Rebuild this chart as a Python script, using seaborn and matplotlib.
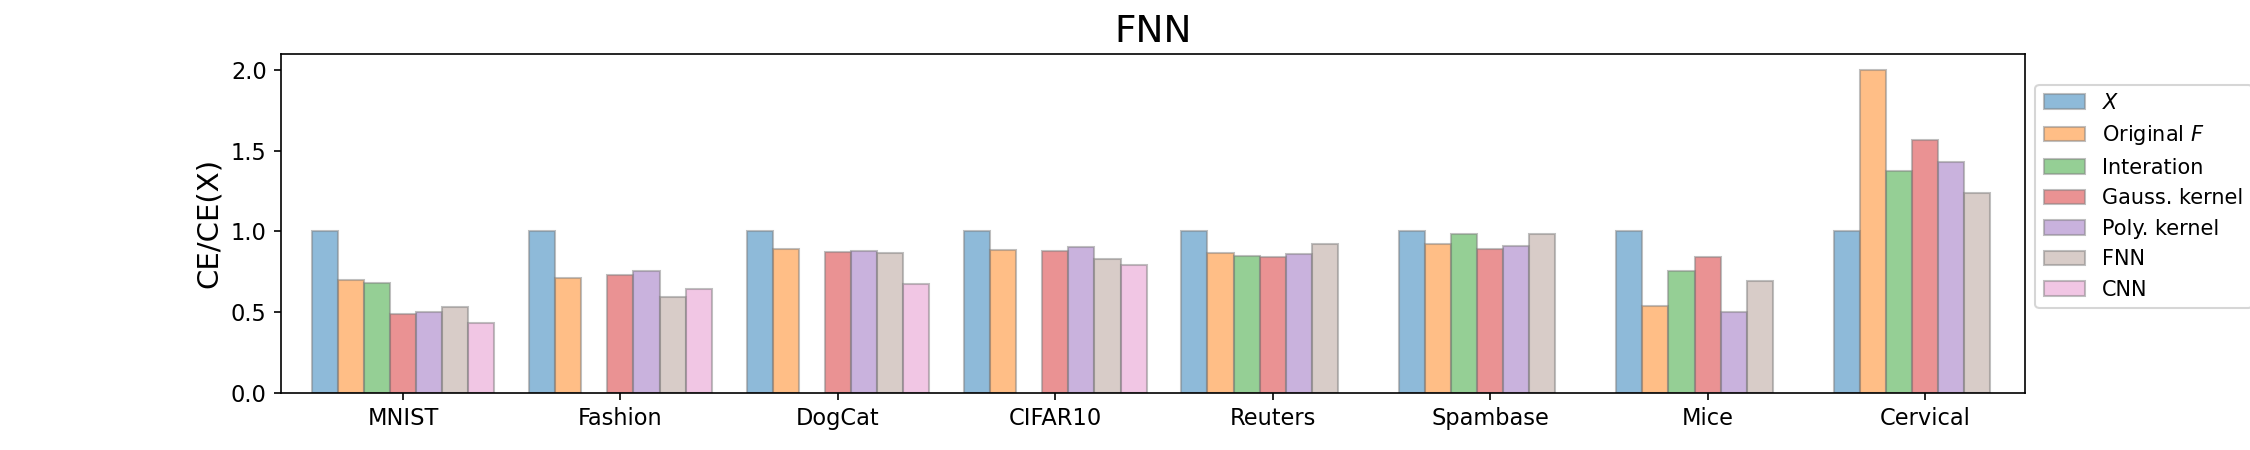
import numpy as np
import pandas as pd
import seaborn as sns
import matplotlib.pyplot as plt

datasets = ["MNIST", "Fashion", "DogCat", "CIFAR10", "Reuters", "Spambase", "Mice", "Cervical"]
methods = ["$X$", "Original $F$", "Interation", "Gauss. kernel", "Poly. kernel", "FNN", "CNN"]
colors = ["#1f77b4", "#ff7f0e", "#2ca02c", "#d62728", "#9467bd", "#b39b93", "#e58fcb"]

nan = np.nan
# CE relative to CE(X), one list per method (NaN = not run)
ce_x = [1.0, 1.0, 1.0, 1.0, 1.0, 1.0, 1.0, 1.0]
ce_orig = [0.70, 0.71, 0.89, 0.885, 0.865, 0.925, 0.54, 2.0]
ce_inter = [0.68, nan, nan, nan, 0.846, 0.987, 0.757, 1.377]
ce_gauss = [0.49, 0.73, 0.873, 0.879, 0.842, 0.894, 0.844, 1.567]
ce_poly = [0.50, 0.757, 0.881, 0.904, 0.863, 0.908, 0.50, 1.43]
ce_fnn = [0.53, 0.592, 0.869, 0.828, 0.923, 0.987, 0.696, 1.24]
ce_cnn = [0.43, 0.642, 0.677, 0.791, nan, nan, nan, nan]

series = [ce_x, ce_orig, ce_inter, ce_gauss, ce_poly, ce_fnn, ce_cnn]
rows = []
for m, vals in zip(methods, series):
    for d, v in zip(datasets, vals):
        rows.append([d, m, v])
df = pd.DataFrame(rows, columns=["dataset", "method", "ratio"])

fig, ax = plt.subplots(figsize=(15, 3), dpi=150)
fig.subplots_adjust(left=0.125, right=0.9, top=0.88, bottom=0.127)

sns.barplot(data=df, x="dataset", y="ratio", hue="method", order=datasets,
            hue_order=methods, palette=colors, saturation=1, width=0.84,
            alpha=0.5, edgecolor="grey", linewidth=1, ax=ax)

ax.set_xlim(-0.56, 7.46)
ax.set_ylim(0, 2.1)
ax.set_xlabel("")
ax.set_ylabel("CE/CE(X)", fontsize=14)
ax.set_title("FNN", fontsize=18)
ax.tick_params(labelsize=10.8)
ax.legend(loc="upper left", bbox_to_anchor=(1.0, 0.94), fontsize=10)

fig.savefig("out.png")
